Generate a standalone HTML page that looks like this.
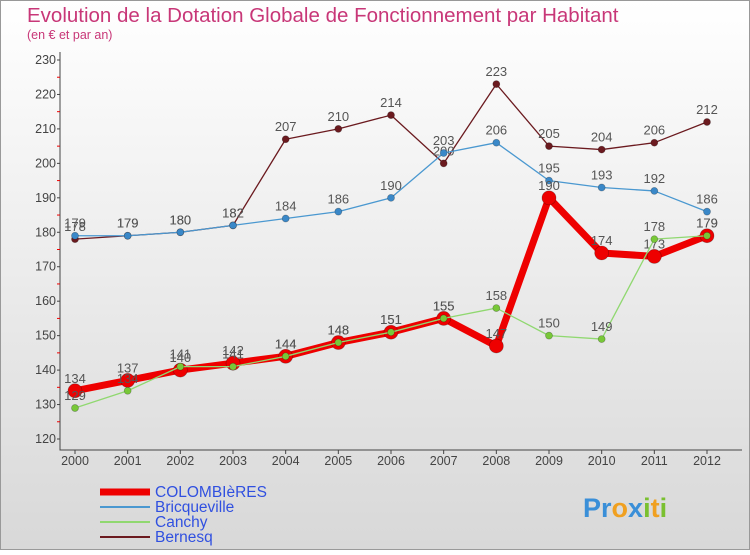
<!DOCTYPE html>
<html><head><meta charset="utf-8"><style>
body{margin:0;width:750px;height:550px;overflow:hidden;font-family:"Liberation Sans",sans-serif;}
svg text{font-family:"Liberation Sans",sans-serif;}
</style></head><body>
<svg width="750" height="550">
<defs><linearGradient id="bg" x1="0" y1="0" x2="0" y2="1"><stop offset="0" stop-color="#ffffff"/><stop offset="1" stop-color="#d8d8d8"/></linearGradient></defs>
<rect x="0.5" y="0.5" width="749" height="549" fill="url(#bg)" stroke="#999"/>
<text x="27" y="22" font-size="20.5" fill="#c83778">Evolution de la Dotation Globale de Fonctionnement par Habitant</text>
<text x="27" y="39" font-size="12.5" fill="#c83778">(en € et par an)</text>
<g id="axes"></g>
<g id="series"></g>
<g id="legend"></g>
<text x="583" y="517" font-size="27" font-weight="bold"><tspan fill="#3a8fd8">Pr</tspan><tspan fill="#f0a020">o</tspan><tspan fill="#3a8fd8">x</tspan><tspan fill="#7ac030">i</tspan><tspan fill="#f0a020">t</tspan><tspan fill="#7ac030">i</tspan></text>
</svg>
<script>
const years=[2000,2001,2002,2003,2004,2005,2006,2007,2008,2009,2010,2011,2012];
const yTicks=[120,130,140,150,160,170,180,190,200,210,220,230];
const colombieres=[134,137,140,142,144,148,151,155,147,190,174,173,179];
const bricqueville=[179,179,180,182,184,186,190,203,206,195,193,192,186];
const canchy=[129,134,141,141,144,148,151,155,158,150,149,178,179];
const bernesq=[178,179,180,182,207,210,214,200,223,205,204,206,212];
const NS="http://www.w3.org/2000/svg";
function x(i){return 75+i*(707-75)/12;}
function y(v){return 439-(v-120)*(439-60)/110;}
function mk(t,a,p){const e=document.createElementNS(NS,t);for(const k in a)e.setAttribute(k,a[k]);p.appendChild(e);return e;}
const ax=document.getElementById('axes');
const frame=mk('path',{d:'M60 52 V450 H742',fill:'none',stroke:'#444','stroke-width':1},ax);


yTicks.forEach(v=>{
 const t=mk('text',{x:56,y:y(v)+4,'text-anchor':'end','font-size':12.5,fill:'#444'},ax);t.textContent=v;
 
 
 mk('line',{x1:57,x2:60,y1:y(v),y2:y(v),stroke:'#444'},ax);
 if(v<230)mk('line',{x1:57,x2:60,y1:y(v+5),y2:y(v+5),stroke:'#e00'},ax);
});
years.forEach((yr,i)=>{
 const t=mk('text',{x:x(i),y:465,'text-anchor':'middle','font-size':12.5,fill:'#444'},ax);t.textContent=yr;
 
 
 mk('line',{x1:x(i),x2:x(i),y1:450,y2:454,stroke:'#444'},ax);
});
const sg=document.getElementById('series');
const series=[
 {name:'bernesq',d:bernesq,c:'#6b1a1f',w:1.3,r:3.5,fc:'#6b1a1f'},
 {name:'bricqueville',d:bricqueville,c:'#4a98d0',w:1.3,r:3.5,fc:'#3a88c8'},
 {name:'colombieres',d:colombieres,c:'#ee0000',w:7,r:7,fc:'#ee0000'},
 {name:'canchy',d:canchy,c:'#90d870',w:1.3,r:3.5,fc:'#78c838'}];
series.forEach(s=>{
 const g=mk('g',{},sg);
 
 
 const pl=mk('polyline',{points:s.d.map((v,i)=>x(i)+','+y(v)).join(' '),fill:'none',stroke:s.c,'stroke-width':s.w,'stroke-linejoin':'round'},g);
 
 
 s.d.forEach((v,i)=>{
  const c=mk('circle',{cx:x(i),cy:y(v),r:s.r,fill:s.fc,stroke:'rgba(0,0,0,0.3)','stroke-width':0.7},g);
  
  
  const t=mk('text',{x:x(i),y:y(v)-8,'text-anchor':'middle','font-size':13,fill:'#555'},g);t.textContent=v;
  
  
 });
});
const lg=document.getElementById('legend');
const leg=[['COLOMBIèRES','#ee0000',7,'#3050e0'],['Bricqueville','#4a98d0',2,'#3050e0'],['Canchy','#90d870',2,'#3050e0'],['Bernesq','#6b1a1f',2,'#3050e0']];
leg.forEach((l,i)=>{
 const yy=492+i*15;
 const g=mk('g',{},lg);
 
 
 mk('line',{x1:100,x2:150,y1:yy,y2:yy,stroke:l[1],'stroke-width':l[2]},g);
 const t=mk('text',{x:155,y:yy+5,'font-size':15.5,fill:l[3]},g);t.textContent=l[0];
});
</script>
</body></html>
